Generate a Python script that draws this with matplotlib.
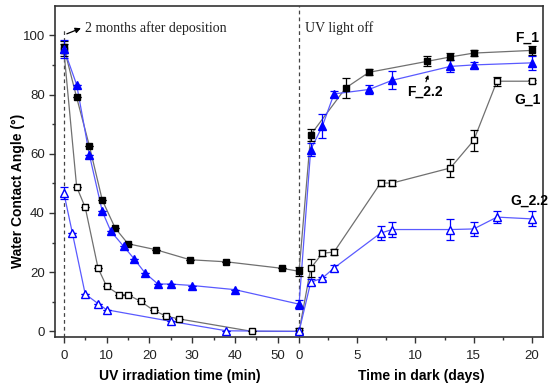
import matplotlib
matplotlib.use("Agg")
import matplotlib.pyplot as plt
import numpy as np

# minutes part (UV irradiation), then days part (dark storage)
f1_min = [0, 3, 6, 9, 12, 15, 21.5, 29.5, 38, 51]
f1_min_val = [96, 79, 62.5, 44.3, 34.9, 29.6, 27.6, 24.2, 23.5, 21.3]
f1_day = [0, 1, 4, 6, 11, 13, 15, 20]
f1_day_val = [20.3, 66.4, 82.2, 87.5, 91.2, 92.7, 94.0, 94.9]
f1_day_err = [1.5, 2, 3.5, 1, 1.7, 1.2, 1, 1.5]

f22_min = [0, 3, 6, 9, 11, 14, 16.5, 19, 22, 25, 30, 40]
f22_min_val = [95.5, 83.3, 59.5, 40.5, 33.8, 28.7, 24.4, 19.7, 16, 16, 15.5, 14.1]
f22_day = [0, 1, 2, 3, 6, 8, 13, 15, 20]
f22_day_val = [9.2, 61.4, 69.3, 80.2, 81.7, 84.8, 89.5, 90.0, 90.7]
f22_day_err = [1.5, 2.2, 4, 1, 1.5, 3, 2, 1, 2.3]

g1_min = [0, 3, 5, 8, 10, 13, 15, 18, 21, 24, 27, 44]
g1_min_val = [95, 48.8, 41.9, 21.4, 15.2, 12.4, 12.4, 10.1, 7.1, 5.1, 4.2, 0]
g1_day = [0, 1, 2, 3, 7, 8, 13, 15, 17, 20]
g1_day_val = [0, 21.3, 26.4, 26.8, 50.1, 50.1, 55.2, 64.5, 84.5, 84.5]
g1_day_err = [1, 3, 1, 1, 1, 1, 3, 3.5, 1.5, 0.5]

g22_min = [0, 2, 5, 8, 10, 25, 38]
g22_min_val = [46.8, 33.2, 12.6, 9.4, 7.3, 3.4, 0.2]
g22_day = [0, 1, 2, 3, 7, 8, 13, 15, 17, 20]
g22_day_val = [0, 16.6, 18.0, 21.4, 33.2, 34.4, 34.4, 34.6, 38.6, 38.0]
g22_day_err = [0.5, 1, 0.5, 1, 2.5, 2.5, 3.5, 2.5, 2, 2.5]

start_err = {"F_1": 2, "F_2.2": 3, "G_1": 2, "G_2.2": 2}

min_ticks = [0, 10, 20, 30, 40, 50]
day_ticks = [0, 5, 10, 15, 20]

# days are drawn after the minutes on one shared axis
DAY0 = 55
DAY = 2.722


def day_x(d):
    return DAY0 + np.asarray(d, dtype=float) * DAY


plt.rcParams['font.family'] = ['Liberation Sans', 'DejaVu Sans']
fig = plt.figure(figsize=(5.5, 3.91), dpi=100)
ax = fig.add_axes([0.1005, 0.1373, 0.8865, 0.8481])

black_line = '#707070'
blue = '#0000ff'
blue_line = '#5a5aff'

series = [
    ("F_1", f1_min, f1_min_val, f1_day, f1_day_val, f1_day_err, 's', 'black', black_line, True, 4.6),
    ("G_1", g1_min, g1_min_val, g1_day, g1_day_val, g1_day_err, 's', 'black', black_line, False, 4.6),
    ("F_2.2", f22_min, f22_min_val, f22_day, f22_day_val, f22_day_err, '^', blue, blue_line, True, 5.5),
    ("G_2.2", g22_min, g22_min_val, g22_day, g22_day_val, g22_day_err, '^', blue, blue_line, False, 5.5),
]

for name, m, mv, d, dv, de, mk, col, lcol, filled, ms in series:
    x = np.concatenate([np.asarray(m, dtype=float), day_x(d)])
    y = np.concatenate([mv, dv])
    err = np.concatenate([[start_err[name]], np.zeros(len(m) - 1), de])
    ax.plot(x, y, '-', color=lcol, lw=0.9, zorder=2)
    ax.errorbar(x, y, yerr=err, fmt='none', ecolor=col, elinewidth=0.9,
                capsize=3, capthick=0.9, zorder=3)
    ax.plot(x, y, mk, ms=ms, mec=col, mew=1.0,
            mfc=col if filled else 'white', zorder=4)

# dashed markers for the start and the end of UV light
ax.plot([0, 0], [-2, 102], ls=(0, (3, 2.5)), color='#444444', lw=0.9, zorder=1)
ax.axvline(DAY0, ls=(0, (3, 2.5)), color='#444444', lw=0.9, zorder=1)

ax.annotate("", xy=(4.0, 102.4), xytext=(0.7, 100.5),
            arrowprops=dict(arrowstyle='-|>', color='black', lw=0.9,
                            mutation_scale=8, shrinkA=0, shrinkB=0))
ax.text(4.9, 102.3, "2 months after deposition", family='Liberation Serif',
        fontsize=10, va='center', ha='left', color='#222222')
ax.text(56.3, 102.3, "UV light off", family='Liberation Serif',
        fontsize=10, va='center', ha='left', color='#222222')

ax.text(day_x(19.6), 99.3, "F_1", fontsize=10, fontweight='bold', ha='center', va='center')
ax.text(day_x(19.6), 78.2, "G_1", fontsize=10, fontweight='bold', ha='center', va='center')
ax.text(day_x(19.8), 44.0, "G_2.2", fontsize=10, fontweight='bold', ha='center', va='center')
ax.text(day_x(10.8), 80.8, "F_2.2", fontsize=10, fontweight='bold', ha='center', va='center')
ax.annotate("", xy=(day_x(11.1), 86.6), xytext=(day_x(10.9), 84.3),
            arrowprops=dict(arrowstyle='-|>', color='black', lw=0.8,
                            mutation_scale=5, shrinkA=0, shrinkB=0))

ax.set_xlim(-2, 112)
ax.set_ylim(-2, 110)

xt = list(min_ticks) + list(day_x(day_ticks))
xl = [str(t) for t in min_ticks] + [str(t) for t in day_ticks]
ax.set_xticks(xt)
ax.set_xticklabels(xl)
ax.set_xticks([5, 15, 25, 35, 45] + list(day_x([2.5, 7.5, 12.5, 17.5])), minor=True)
ax.set_yticks([0, 20, 40, 60, 80, 100])
ax.set_yticks([10, 30, 50, 70, 90], minor=True)

ax.tick_params(axis='both', which='major', direction='out', length=4, width=1,
               labelsize=9.5, colors='#333333', labelcolor='#222222')
ax.tick_params(axis='x', which='major', pad=5)
ax.tick_params(axis='both', which='minor', direction='out', length=2.5, width=1,
               colors='#333333')
for s in ax.spines.values():
    s.set_color('#333333')
    s.set_linewidth(1.2)

fig.text(18 / 550, 1 - 191 / 391, "Water Contact Angle (°)", fontsize=10,
         fontweight='bold', rotation=90, ha='center', va='center')
fig.text(180 / 550, 1 - 376 / 391, "UV irradiation time (min)", fontsize=10,
         fontweight='bold', ha='center', va='center')
fig.text(421 / 550, 1 - 376 / 391, "Time in dark (days)", fontsize=10,
         fontweight='bold', ha='center', va='center')

fig.savefig("out.png", dpi=100)
